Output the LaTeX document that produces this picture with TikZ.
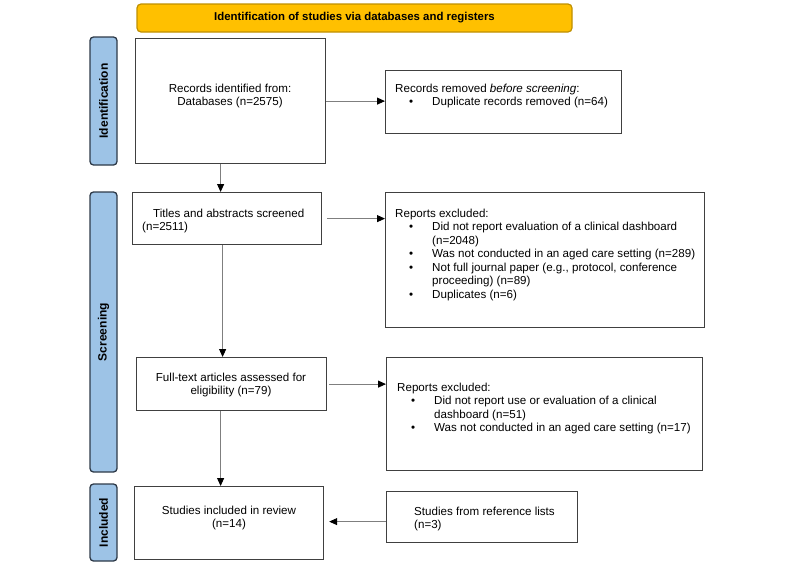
\documentclass[tikz,border=0pt]{standalone}
\usepackage{fontspec}
\setmainfont{Liberation Sans}
\usetikzlibrary{arrows.meta}
\definecolor{boxline}{HTML}{404040}
\definecolor{arrline}{HTML}{7F7F7F}
\definecolor{banfill}{HTML}{FFC000}
\definecolor{banline}{HTML}{BF9000}
\definecolor{sidefill}{HTML}{9DC3E6}
\definecolor{sideline}{HTML}{2E3A48}
\newcommand\bitem[1]{\makebox[37pt][l]{\hspace{14pt}•}#1}
\newcommand\bcont[1]{\hspace*{37pt}#1}
\newcommand\fstrut{\rule{0pt}{9pt}}
\begin{document}
\begin{tikzpicture}[x=1pt,y=-1pt,
  box/.style={draw=boxline, line width=1.2pt, fill=white, inner sep=0pt, anchor=north west},
  txt/.style={inner sep=0pt, font=\fontsize{11.6}{13.5}\selectfont},
  arr/.style={draw=arrline, line width=0.9pt, -{Triangle[length=8pt,width=7pt,color=black]}},
  side/.style={draw=sideline, fill=sidefill, line width=1.3pt, rounded corners=3.5pt, inner sep=0pt, rotate=90, font=\fontsize{12}{14}\selectfont\bfseries},
  banner/.style={draw=banline, fill=banfill, line width=1.2pt, rounded corners=4pt, inner sep=0pt, font=\fontsize{11.4}{13}\selectfont\bfseries}
]
\useasboundingbox (0,0) rectangle (800,565);

% banner
\node[banner, minimum width=435pt, minimum height=28pt] (ban) at (354.5,18) {Identification of studies via databases and registers};

% side labels
\node[side, minimum width=128pt, minimum height=27pt] (sid) at (103.5,101) {Identification};
\node[side, minimum width=280pt, minimum height=27pt] (ssc) at (103.5,332) {Screening};
\node[side, minimum width=77pt, minimum height=27pt] (sin) at (103.5,522.5) {Included};

% boxes
\node[box, minimum width=190pt, minimum height=125pt] (b1) at (135,38) {};
\node[box, minimum width=236pt, minimum height=63pt] (rr) at (385,70) {};
\node[box, minimum width=189pt, minimum height=52pt] (b2) at (132,192) {};
\node[box, minimum width=319pt, minimum height=135pt] (re1) at (385,192) {};
\node[box, minimum width=190pt, minimum height=53pt] (b3) at (136,357) {};
\node[box, minimum width=316pt, minimum height=113pt] (re2) at (386,357) {};
\node[box, minimum width=189pt, minimum height=73pt] (inc) at (134,486) {};
\node[box, minimum width=191pt, minimum height=51pt] (refl) at (386,491) {};

% texts
\node[txt, anchor=north, align=center] (t1) at (230,83) {\fstrut Records identified from:\\Databases (n=2575)};
\node[txt, anchor=north west, align=left] (t2) at (142,208) {\fstrut\hspace*{11pt}Titles and abstracts screened\\(n=2511)};
\node[txt, anchor=north, align=center] (t3) at (231,372) {\fstrut Full-text articles assessed for\\eligibility (n=79)};
\node[txt, anchor=north, align=center] (t4) at (229,505) {\fstrut Studies included in review\\(n=14)};
\node[txt, anchor=north west, align=left] (t5) at (414,506) {\fstrut Studies from reference lists\\(n=3)};
\node[txt, anchor=north west, align=left] (t6) at (395,83) {\fstrut Records removed \textit{before screening}:\\\bitem{Duplicate records removed (n=64)}};
\node[txt, anchor=north west, align=left] (t7) at (395,208) {\fstrut Reports excluded:\\
  \bitem{Did not report evaluation of a clinical dashboard}\\
  \bcont{(n=2048)}\\
  \bitem{Was not conducted in an aged care setting (n=289)}\\
  \bitem{Not full journal paper (e.g., protocol, conference}\\
  \bcont{proceeding) (n=89)}\\
  \bitem{Duplicates (n=6)}};
\node[txt, anchor=north west, align=left] (t8) at (397,382) {\fstrut Reports excluded:\\
  \bitem{Did not report use or evaluation of a clinical}\\
  \bcont{dashboard (n=51)}\\
  \bitem{Was not conducted in an aged care setting (n=17)}};

% arrows
\draw[arr] (b1.east) -- (b1.east -| rr.west);
\draw[arr] ([xshift=-10pt]b1.south) -- ([xshift=-10pt]b1.south |- b2.north);
\draw[arr, shorten <=5pt] (b2.east) -- (b2.east -| re1.west);
\draw[arr] ([xshift=-4.5pt]b2.south) -- ([xshift=-4.5pt]b2.south |- b3.north);
\draw[arr, shorten <=2pt] (b3.east) -- (b3.east -| re2.west);
\draw[arr] ([xshift=-11pt]b3.south) -- ([xshift=-11pt]b3.south |- inc.north);
\draw[arr, shorten >=5pt] ([yshift=-4.5pt]refl.west) -- ([yshift=-4.5pt]refl.west -| inc.east);
\end{tikzpicture}
\end{document}
